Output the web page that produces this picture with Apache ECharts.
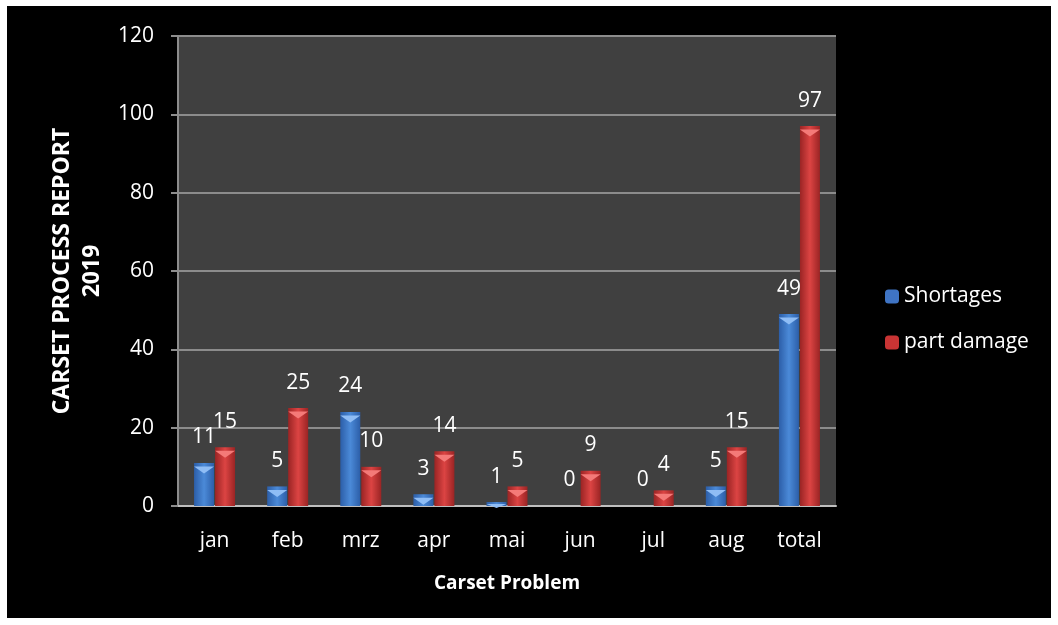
<!DOCTYPE html>
<html>
<head>
<meta charset="utf-8">
<script src="https://cdn.jsdelivr.net/npm/echarts@6/dist/echarts.min.js"></script>
<style>
  html, body { margin: 0; padding: 0; background: #fff; }
  #chart { position: absolute; left: 7px; top: 6px; width: 1044px; height: 612px; background: #000; }
</style>
</head>
<body>
<div id="chart"></div>
<script>
// chart data
var months = ['jan', 'feb', 'mrz', 'apr', 'mai', 'jun', 'jul', 'aug', 'total'];
var shortages = [11, 5, 24, 3, 1, 0, 0, 5, 49];
var partDamage = [15, 25, 10, 14, 5, 9, 4, 15, 97];
var yTicks = { min: 0, max: 120, interval: 20 };

var font = 'Open Sans, Noto Sans, sans-serif';
var capPath = 'path://M0,0 L10,0 L5,4 Z';

function barGrad(edge, mid) {
  return new echarts.graphic.LinearGradient(0, 0, 1, 0, [
    { offset: 0, color: edge },
    { offset: 0.5, color: mid },
    { offset: 1, color: edge }
  ]);
}

// light bevel on top of each bar (none for zero values)
function caps(arr) {
  return arr.map(function (v) {
    if (!v) return '-';
    return { value: v, symbolSize: [20, Math.min(7, v * 3.9)] };
  });
}

var myChart = echarts.init(document.getElementById('chart'));
myChart.setOption({
  animation: false,
  textStyle: { fontFamily: font },
  grid: {
    left: 171, right: 215, top: 30, bottom: 112,
    show: true, backgroundColor: '#404040', borderWidth: 0
  },
  legend: {
    orient: 'vertical',
    left: 873, top: 275,
    itemWidth: 14, itemHeight: 14, itemGap: 25,
    textStyle: { color: '#fff', fontSize: 21, fontFamily: font },
    data: [
      { name: 'Shortages', itemStyle: { color: '#3f74c4' } },
      { name: 'part damage', itemStyle: { color: '#c83434' } }
    ]
  },
  xAxis: {
    type: 'category',
    data: months,
    name: 'Carset Problem',
    nameLocation: 'middle',
    nameGap: 68,
    nameTextStyle: { color: '#fff', fontSize: 19, fontWeight: 'bold' },
    axisLine: { lineStyle: { color: '#bfbfbf', width: 2 } },
    axisTick: { show: false },
    axisLabel: { color: '#fff', fontSize: 21, margin: 25 }
  },
  yAxis: {
    type: 'value',
    min: yTicks.min, max: yTicks.max, interval: yTicks.interval,
    name: 'CARSET PROCESS REPORT\n2019',
    nameLocation: 'middle',
    nameRotate: 90,
    nameGap: 70,
    nameTextStyle: { color: '#fff', fontSize: 23, fontWeight: 'bold', lineHeight: 30 },
    axisLine: { show: true, lineStyle: { color: '#8c8c8c', width: 2 } },
    axisTick: { show: true, inside: false, length: 7, lineStyle: { color: '#8c8c8c', width: 2 } },
    splitLine: { lineStyle: { color: '#8c8c8c', width: 2 } },
    axisLabel: { color: '#fff', fontSize: 21, margin: 24 }
  },
  series: [
    {
      name: 'Shortages',
      type: 'bar',
      data: shortages,
      barWidth: 20,
      barGap: '5%',
      itemStyle: { color: barGrad('#2c5ea8', '#4b8ad8') },
      label: { show: true, position: 'top', distance: 15, color: '#fff', fontSize: 21 }
    },
    {
      name: 'part damage',
      type: 'bar',
      data: partDamage,
      barWidth: 20,
      itemStyle: { color: barGrad('#9a2424', '#dc4443') },
      label: { show: true, position: 'top', distance: 15, color: '#fff', fontSize: 21 }
    },
    {
      name: 'capS',
      type: 'pictorialBar',
      data: caps(shortages),
      symbol: capPath,
      symbolPosition: 'end',
      symbolOffset: [-10.5, '50%'],
      itemStyle: { color: '#8fbdf5' },
      z: 3, silent: true
    },
    {
      name: 'capP',
      type: 'pictorialBar',
      data: caps(partDamage),
      symbol: capPath,
      symbolPosition: 'end',
      symbolOffset: [10.5, '50%'],
      itemStyle: { color: '#f47a78' },
      z: 3, silent: true
    }
  ]
});
</script>
</body>
</html>
